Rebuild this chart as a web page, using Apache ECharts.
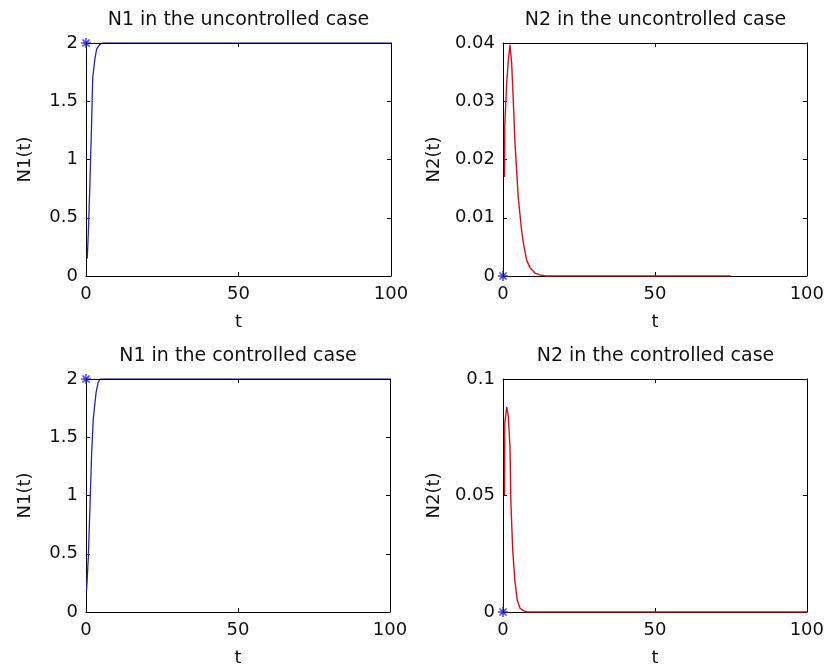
<!DOCTYPE html>
<html>
<head>
<meta charset="utf-8">
<script src="https://cdn.jsdelivr.net/npm/echarts@6/dist/echarts.min.js"></script>
<style>
html,body{margin:0;padding:0;background:#fff;}
#c{width:827px;height:672px;}
</style>
</head>
<body>
<div id="c"></div>
<script>
// ---- Data ----
var titles = ['N1 in the uncontrolled case', 'N2 in the uncontrolled case', 'N1 in the controlled case', 'N2 in the controlled case'];
var yNames = ['N1(t)', 'N2(t)', 'N1(t)', 'N2(t)'];
var xName = 't';
var xTicks = [0, 50, 100];
var yMax = [2, 0.04, 2, 0.1];
var yStep = [0.5, 0.01, 0.5, 0.05];

var tN1u = [0.4, 0.8, 1.3, 1.85, 2.2, 2.95, 3.5, 4.6, 5.5, 100];
var N1u  = [0.15, 0.39, 0.81, 1.32, 1.70, 1.87, 1.95, 1.99, 2.0, 2.0];

var tN2u = [0.5, 0.6, 1.2, 1.75, 2.3, 2.85, 3.4, 3.9, 4.5, 5.0, 6.1, 6.7, 7.8, 8.9, 10.5, 12.1, 14, 75];
var N2u  = [0.017, 0.026, 0.033, 0.037, 0.0397, 0.0365, 0.030, 0.0233, 0.018, 0.0136, 0.0079, 0.0057, 0.0027, 0.0014, 0.0005, 0.0002, 0, 0];

var tN1c = [0.2, 0.77, 1.3, 1.85, 2.4, 3.3, 4.0, 4.6, 5.5, 100];
var N1c  = [0.19, 0.47, 0.90, 1.36, 1.66, 1.88, 1.97, 2.0, 2.0, 2.0];

var tN2c = [0.5, 0.6, 1.2, 1.75, 2.3, 2.6, 3.2, 3.9, 4.7, 5.6, 6.7, 8, 100];
var N2c  = [0.05, 0.081, 0.088, 0.084, 0.071, 0.0467, 0.0266, 0.0137, 0.005, 0.0016, 0.0006, 0, 0];

var startPoints = [[0, 2], [0, 0], [0, 2], [0, 0]];

// ---- Chart ----
function pairs(t, v) { return t.map(function (x, i) { return [x, v[i]]; }); }
var curves = [pairs(tN1u, N1u), pairs(tN2u, N2u), pairs(tN1c, N1c), pairs(tN2c, N2c)];
var lineColors = ['#2626a8', '#c8141e', '#2626a8', '#c8141e'];

var grids = [
  {left: 86, top: 43, width: 305, height: 233},
  {left: 503, top: 43, width: 305, height: 233},
  {left: 86, top: 379, width: 304, height: 233},
  {left: 503, top: 379, width: 305, height: 233}
];
var FONT = 'DejaVu Sans';
var star = 'path://M-1.5,-10 L1.5,-10 L1.5,10 L-1.5,10 Z M-10,-1.5 L10,-1.5 L10,1.5 L-10,1.5 Z M-6.0,-8.1 L8.1,6.0 L6.0,8.1 L-8.1,-6.0 Z M-8.1,6.0 L6.0,-8.1 L8.1,-6.0 L-6.0,8.1 Z';

var xAxes = [], yAxes = [], series = [], graphics = [];
function fmt(v) { return String(parseFloat(v.toFixed(4))); }
for (var i = 0; i < 4; i++) {
  var line = {show: true, onZero: false, lineStyle: {color: '#000', width: 1}};
  var tick = {show: true, inside: true, length: 4, lineStyle: {color: '#000'}};
  xAxes.push({
    type: 'value', gridIndex: i, min: xTicks[0], max: xTicks[xTicks.length - 1], interval: 50,
    position: 'bottom', axisLine: line, axisTick: tick, splitLine: {show: false},
    axisLabel: {color: '#111', fontFamily: FONT, fontSize: 18, margin: 9},
    name: xName, nameLocation: 'middle', nameGap: 37,
    nameTextStyle: {color: '#111', fontFamily: FONT, fontSize: 18}
  });
  xAxes.push({
    type: 'value', gridIndex: i, min: xTicks[0], max: xTicks[xTicks.length - 1], interval: 50,
    position: 'top', axisLine: line, axisTick: tick, splitLine: {show: false}, axisLabel: {show: false},
    z: 4
  });
  yAxes.push({
    type: 'value', gridIndex: i, min: 0, max: yMax[i], interval: yStep[i],
    position: 'left', axisLine: line, axisTick: tick, splitLine: {show: false},
    axisLabel: {color: '#111', fontFamily: FONT, fontSize: 18, margin: 8, formatter: fmt},
    name: yNames[i], nameLocation: 'middle', nameGap: i % 2 === 0 ? 52 : 60,
    nameTextStyle: {color: '#111', fontFamily: FONT, fontSize: 18}
  });
  yAxes.push({
    type: 'value', gridIndex: i, min: 0, max: yMax[i], interval: yStep[i],
    position: 'right', axisLine: line, axisTick: tick, splitLine: {show: false}, axisLabel: {show: false}
  });
  series.push({
    type: 'line', xAxisIndex: 2 * i, yAxisIndex: 2 * i, data: curves[i],
    showSymbol: false, lineStyle: {color: lineColors[i], width: i % 2 === 1 ? 1.4 : 1.3}, animation: false
  });
  series.push({
    type: 'scatter', xAxisIndex: 2 * i, yAxisIndex: 2 * i, data: [startPoints[i]],
    symbol: star, symbolSize: 10, itemStyle: {color: '#1414c8'}, animation: false, z: 5
  });
  graphics.push({
    type: 'text', x: grids[i].left + grids[i].width / 2, y: grids[i].top - 23,
    style: {text: titles[i], fill: '#111', font: '19px "DejaVu Sans"', align: 'center', verticalAlign: 'middle'}
  });
}

var chart = echarts.init(document.getElementById('c'), null, {renderer: 'canvas'});
chart.setOption({
  backgroundColor: '#fff',
  animation: false,
  grid: grids,
  xAxis: xAxes,
  yAxis: yAxes,
  series: series,
  graphic: graphics
});
</script>
</body>
</html>
